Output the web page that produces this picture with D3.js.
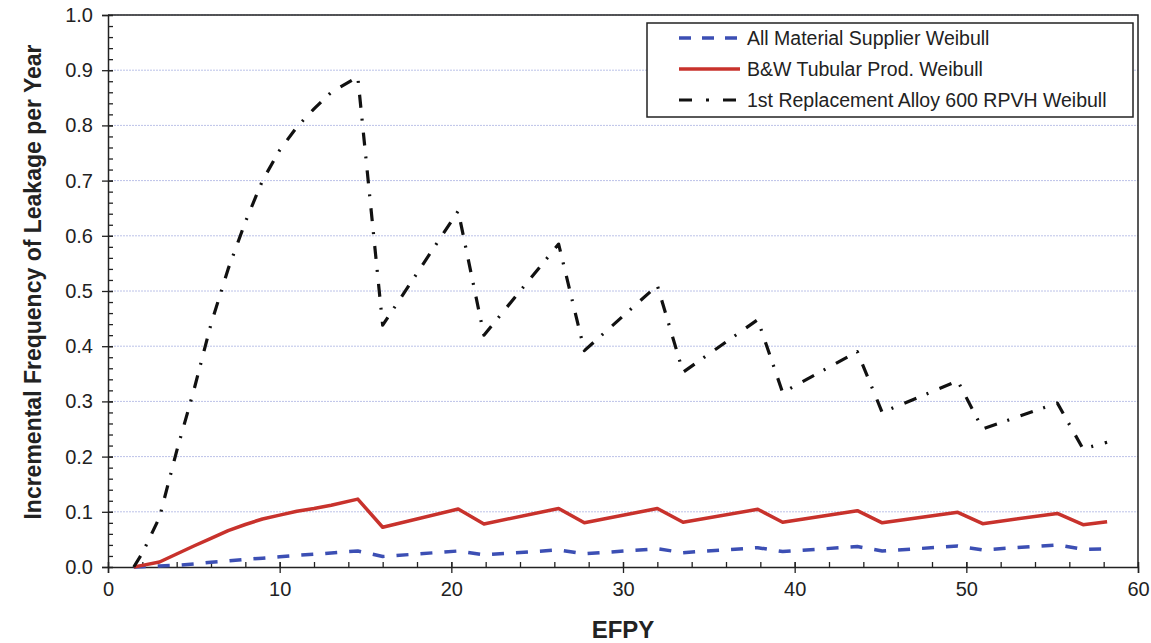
<!DOCTYPE html>
<html>
<head>
<meta charset="utf-8">
<script src="https://cdn.jsdelivr.net/npm/d3@7"></script>
<style>
  body { margin: 0; background: #fff; }
  svg text { font-family: "Liberation Sans", Arial, sans-serif; fill: #222; }
</style>
</head>
<body>
<div id="chart"></div>
<script>
// EFPY points shared by the three curves
const efpy = [1.5, 2, 3, 4, 5, 6, 7, 8, 9, 10, 11, 12, 13, 14.55,
              16.0, 20.4, 21.9, 26.25, 27.75, 32.0, 33.5, 37.85, 39.3,
              43.65, 45.1, 49.5, 50.95, 55.3, 56.8, 58.2];

// All Material Supplier Weibull
const allSupplier = [0, 0.0005, 0.002, 0.003, 0.0055, 0.0085, 0.011, 0.014, 0.016, 0.0185, 0.021, 0.023, 0.0255, 0.029,
                     0.019, 0.029, 0.022, 0.031, 0.024, 0.033, 0.026, 0.035, 0.028,
                     0.037, 0.029, 0.038, 0.031, 0.040, 0.032, 0.033];

// B&W Tubular Prod. Weibull
const bwTubular = [0, 0.003, 0.009, 0.0235, 0.038, 0.052, 0.066, 0.077, 0.087, 0.094, 0.101, 0.106, 0.112, 0.123,
                   0.072, 0.105, 0.078, 0.106, 0.080, 0.106, 0.081, 0.1045, 0.081,
                   0.102, 0.080, 0.099, 0.0785, 0.097, 0.0766, 0.082];

// 1st Replacement Alloy 600 RPVH Weibull
const firstReplacement = [0, 0.025, 0.09, 0.21, 0.32, 0.44, 0.54, 0.625, 0.70, 0.755, 0.797, 0.83, 0.86, 0.888,
                          0.438, 0.645, 0.42, 0.585, 0.392, 0.51, 0.353, 0.448, 0.316,
                          0.39, 0.28, 0.337, 0.25, 0.297, 0.214, 0.226];

const seriesNames = ["All Material Supplier Weibull", "B&W Tubular Prod. Weibull", "1st Replacement Alloy 600 RPVH Weibull"];
const xTicks = [0, 10, 20, 30, 40, 50, 60];
const yTicks = [0, 0.1, 0.2, 0.3, 0.4, 0.5, 0.6, 0.7, 0.8, 0.9, 1.0];

const W = 1151, H = 643;
const margin = { top: 15, right: 13, bottom: 76, left: 108 },
      width = W - margin.left - margin.right,
      height = H - margin.top - margin.bottom;

const svg = d3.select("#chart").append("svg")
    .attr("width", W)
    .attr("height", H);

const g = svg.append("g")
    .attr("transform", `translate(${margin.left},${margin.top})`);

const x = d3.scaleLinear().domain([0, 60]).range([0, width]);
const y = d3.scaleLinear().domain([0, 1]).range([height, 0]);

// horizontal gridlines
g.append("g")
  .selectAll("line")
  .data(yTicks.slice(1))
  .join("line")
    .attr("x1", 0)
    .attr("x2", width)
    .attr("y1", d => y(d))
    .attr("y2", d => y(d))
    .attr("stroke", "#bcc2e8")
    .attr("stroke-width", 1)
    .attr("stroke-dasharray", "2,1");

// minor ticks (inside)
g.append("g")
    .attr("transform", `translate(0,${height})`)
    .call(d3.axisBottom(x).tickValues(d3.range(0, 61, 2)).tickSize(-5).tickFormat(""))
    .call(a => a.select(".domain").remove());
g.append("g")
    .call(d3.axisLeft(y).tickValues(d3.range(0, 51).map(i => i / 50)).tickSize(-5).tickFormat(""))
    .call(a => a.select(".domain").remove());

// major axes
const xAxis = g.append("g")
    .attr("transform", `translate(0,${height})`)
    .call(d3.axisBottom(x).tickValues(xTicks).tickSize(6).tickPadding(6).tickFormat(d3.format("d")));
xAxis.selectAll(".tick line").attr("y1", -5);
xAxis.selectAll("text").style("font-size", "20px").attr("dy", "0.85em");

const yAxis = g.append("g")
    .call(d3.axisLeft(y).tickValues(yTicks).tickSize(6).tickPadding(9).tickFormat(d3.format(".1f")));
yAxis.selectAll(".tick line").attr("x1", 5);
yAxis.selectAll("text").style("font-size", "20px");

g.selectAll(".tick line").attr("stroke", "#222").attr("stroke-width", 1.3);
g.selectAll(".domain").attr("stroke", "#222").attr("stroke-width", 1.5);

// top and right frame
g.append("path")
    .attr("d", `M0,0H${width}V${height}`)
    .attr("fill", "none")
    .attr("stroke", "#222")
    .attr("stroke-width", 1.5);

// lines
const series = [
  { values: allSupplier, color: "#3c4fb4", width: 3.5, dash: "12,12" },
  { values: bwTubular, color: "#c8322c", width: 3.5, dash: null },
  { values: firstReplacement, color: "#111", width: 3.2, dash: "13,11,2,12" }
];

const line = d3.line()
    .x(d => x(d[0]))
    .y(d => y(d[1]));

series.forEach(s => {
  g.append("path")
      .datum(efpy.map((e, i) => [e, s.values[i]]))
      .attr("fill", "none")
      .attr("stroke", s.color)
      .attr("stroke-width", s.width)
      .attr("stroke-linejoin", "round")
      .attr("stroke-dasharray", s.dash)
      .attr("d", line);
});

// axis titles
svg.append("text")
    .attr("x", margin.left + x(30))
    .attr("y", 638)
    .attr("text-anchor", "middle")
    .style("font-size", "24px")
    .style("font-weight", "bold")
    .text("EFPY");

svg.append("text")
    .attr("transform", "translate(41,282) rotate(-90)")
    .attr("text-anchor", "middle")
    .style("font-size", "23px")
    .style("font-weight", "bold")
    .text("Incremental Frequency of Leakage per Year");

// legend
const legend = svg.append("g").attr("transform", "translate(647,23)");
legend.append("rect")
    .attr("width", 486)
    .attr("height", 94)
    .attr("fill", "#fff")
    .attr("stroke", "#222")
    .attr("stroke-width", 1.5);

seriesNames.forEach((name, i) => {
  const row = legend.append("g").attr("transform", `translate(0,${15 + i * 31})`);
  row.append("line")
      .attr("x1", 32)
      .attr("x2", 93)
      .attr("stroke", series[i].color)
      .attr("stroke-width", series[i].width)
      .attr("stroke-dasharray", i === 0 ? "12,11" : i === 2 ? "13,14,3,14" : null);
  row.append("text")
      .attr("x", 100)
      .attr("y", 7)
      .style("font-size", "19.5px")
      .text(name);
});
</script>
</body>
</html>
